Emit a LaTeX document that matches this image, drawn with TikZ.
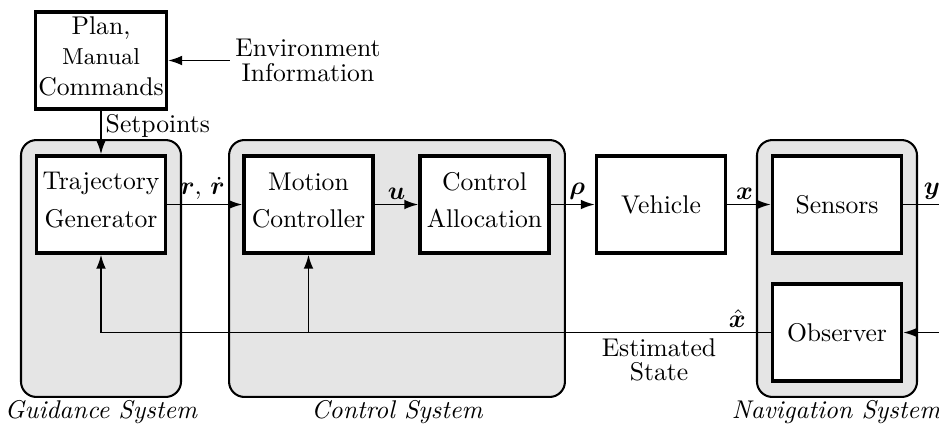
\documentclass[tikz,border=0pt]{standalone}
\usepackage{amsmath,bm}
\usetikzlibrary{arrows.meta}
\begin{document}
\begin{tikzpicture}[x=0.39pt,y=-0.39pt,
  blk/.style={draw,line width=1.3pt,fill=white,minimum width=50.3pt,minimum height=37.8pt,align=center,inner sep=1pt},
  grp/.style={draw,line width=0.8pt,fill=gray!20,rounded corners=6pt,minimum height=100.2pt},
  con/.style={line width=0.7pt},
  arr/.style={con,-{Latex[length=5.5pt,width=3.8pt]}},
  lbl/.style={inner sep=1.5pt},
  capt/.style={font=\itshape,inner sep=0pt}]
\useasboundingbox (0,0) rectangle (939,426);
% groups
\node[grp,minimum width=62.4pt] (guid) at (101,268.5) {};
\node[grp,minimum width=131pt] (ctrl) at (397,268.5) {};
\node[grp,minimum width=62.4pt] (nav) at (837,268.5) {};
% blocks
\node[blk] (plan) at (101,60.5) {Plan,\\{\small Manual}\\Commands\strut};
\node[blk] (traj) at (101,204.5) {Trajectory\\[2.5pt]Generator\strut};
\node[blk] (motion) at (308.5,204.5) {Motion\\[2.5pt]Controller\strut};
\node[blk] (alloc) at (484.5,204.5) {Control\\[2.5pt]Allocation\strut};
\node[blk] (veh) at (661,204.5) {Vehicle};
\node[blk] (sens) at (837,204.5) {Sensors};
\node[blk] (obs) at (837,332.5) {Observer};
% texts
\node[align=center,inner sep=2pt] (env) at (308,60) {Environment\\[-2.2pt]Information};
\node[capt] (gcap) at (101,412) {Guidance System};
\node[capt] (ccap) at (397,412) {Control System};
\node[capt] (ncap) at (836,412) {Navigation System};
\coordinate (yout) at (939,204.5);
\coordinate (obsin) at (939,332.5);
% connectors
\draw[arr] (env.west |- plan.east) -- (plan.east);
\draw[arr] (plan.south) -- node[pos=0.35,right,lbl] {Setpoints} (traj.north);
\draw[arr] (traj.east) -- node[pos=0.47,above,lbl] {$\bm{r},\,\dot{\bm{r}}$} (motion.west);
\draw[arr] (motion.east) -- node[above,lbl] {$\bm{u}$} (alloc.west);
\draw[arr] (alloc.east) -- node[pos=0.6,above,lbl] {$\bm{\rho}$} (veh.west);
\draw[arr] (veh.east) -- node[pos=0.4,above,lbl] {$\bm{x}$} (sens.west);
\draw[con] (sens.east) -- node[pos=0.8,above,lbl] {$\bm{y}$} (yout);
\draw[arr] (obsin) -- (obs.east);
\draw[arr] (obs.west) -- node[pos=0.05,above,lbl] {$\hat{\bm{x}}$}
  node[pos=0.167,below,align=center,inner sep=2pt] {Estimated\\[-2.5pt]State}
  (traj.south |- obs.west) -- (traj.south);
\draw[arr] (motion.south |- obs.west) -- (motion.south);
\end{tikzpicture}
\end{document}
